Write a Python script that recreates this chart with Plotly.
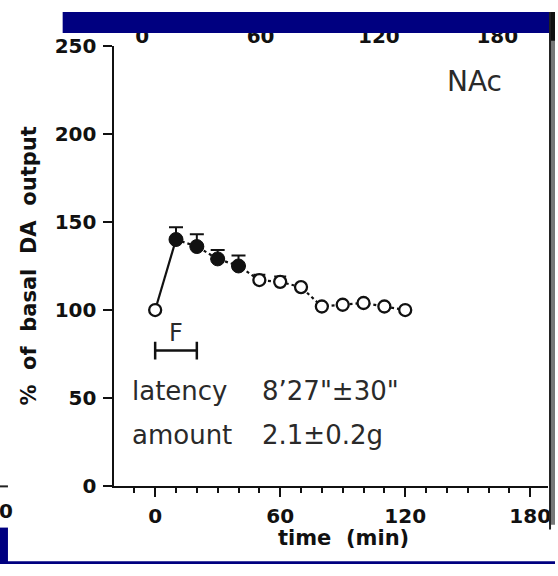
import plotly.graph_objects as go

W, H = 558, 576

# ---- data ----
time_min = [0, 10, 20, 30, 40, 50, 60, 70, 80, 90, 100, 110, 120]
da_pct = [100, 140, 136, 129, 125, 117, 116, 113, 102, 103, 104, 102, 100]
sem_up = [0, 7, 7, 5, 6, 3, 3, 0, 0, 0, 0, 0, 0]
filled = [False, True, True, True, True, False, False, False, False, False, False, False, False]

x_ticks = [0, 60, 120, 180]
y_ticks = [0, 50, 100, 150, 200, 250]
feeding_start, feeding_end = 0, 20
latency_text = "8\u201927\"\u00b130\""
amount_text = "2.1\u00b10.2g"
region_label = "NAc"


def X(px):
    return px / W


def Y(py):
    return 1 - py / H


BLACK = "#111111"
NAVY = "#000080"
thin_font = dict(family="DejaVu Sans ExtraLight, DejaVu Sans", size=26, color="#2a2a2a")

fig = go.Figure()

# solid segment 0 -> 10
fig.add_trace(go.Scatter(x=time_min[:2], y=da_pct[:2], mode="lines",
                         line=dict(color=BLACK, width=2.2), showlegend=False, hoverinfo="skip"))
# dotted segment 10 -> 120
fig.add_trace(go.Scatter(x=time_min[1:], y=da_pct[1:], mode="lines",
                         line=dict(color=BLACK, width=2.2, dash="dot"), showlegend=False, hoverinfo="skip"))

fx = [t for t, f in zip(time_min, filled) if f]
fy = [v for v, f in zip(da_pct, filled) if f]
fe = [e for e, f in zip(sem_up, filled) if f]
ox = [t for t, f in zip(time_min, filled) if not f]
oy = [v for v, f in zip(da_pct, filled) if not f]
oe = [e for e, f in zip(sem_up, filled) if not f]

fig.add_trace(go.Scatter(
    x=ox, y=oy, mode="markers",
    marker=dict(symbol="circle", size=12, color="white", line=dict(color=BLACK, width=2.3)),
    error_y=dict(type="data", array=oe, arrayminus=[0] * len(oe), symmetric=False,
                 color=BLACK, thickness=2, width=6),
    showlegend=False))
fig.add_trace(go.Scatter(
    x=fx, y=fy, mode="markers",
    marker=dict(symbol="circle", size=14, color=BLACK, line=dict(color=BLACK, width=1)),
    error_y=dict(type="data", array=fe, arrayminus=[0] * len(fe), symmetric=False,
                 color=BLACK, thickness=2, width=7),
    showlegend=False))

shapes = []
# feeding bar (F)
bar_y = 77
shapes.append(dict(type="line", xref="x", yref="y", x0=feeding_start, x1=feeding_end,
                   y0=bar_y, y1=bar_y, line=dict(color=BLACK, width=2.5)))
for xv in (feeding_start, feeding_end):
    shapes.append(dict(type="line", xref="x", yref="y", x0=xv, x1=xv,
                       y0=bar_y - 5, y1=bar_y + 5, line=dict(color=BLACK, width=2.5)))

# decorative frame pieces from the slide
shapes.append(dict(type="rect", xref="paper", yref="paper", x0=X(63), x1=X(552), y0=Y(22), y1=Y(0),
                   fillcolor=NAVY, line=dict(width=0), layer="above"))
shapes.append(dict(type="rect", xref="paper", yref="paper", x0=X(0), x1=X(558), y0=Y(576), y1=Y(573),
                   fillcolor=NAVY, line=dict(width=0), layer="above"))
shapes.append(dict(type="rect", xref="paper", yref="paper", x0=X(0), x1=X(8), y0=Y(576), y1=Y(538),
                   fillcolor=NAVY, line=dict(width=0), layer="above"))
shapes.append(dict(type="rect", xref="paper", yref="paper", x0=X(552), x1=X(558), y0=Y(535), y1=Y(0),
                   fillcolor="#777777", line=dict(width=0), layer="above"))
shapes.append(dict(type="rect", xref="paper", yref="paper", x0=X(552), x1=X(558), y0=Y(30), y1=Y(0),
                   fillcolor="#111111", line=dict(width=0), layer="above"))
shapes.append(dict(type="line", xref="paper", yref="paper", x0=X(553), x1=X(553), y0=Y(540), y1=Y(0),
                   line=dict(color="#222222", width=2), layer="above"))
shapes.append(dict(type="line", xref="paper", yref="paper", x0=X(0), x1=X(8), y0=Y(495), y1=Y(495),
                   line=dict(color="#222222", width=2), layer="above"))


def ann(text, xpx, ypx, font, xanchor="center"):
    return dict(text=text, x=X(xpx), y=Y(ypx), xref="paper", yref="paper", xanchor=xanchor,
                yanchor="middle", showarrow=False, font=font)


annotations = [
    dict(text="F", x=(feeding_start + feeding_end) / 2, y=bar_y + 10, xref="x", yref="y",
         xanchor="center", yanchor="middle", showarrow=False,
         font=dict(family="DejaVu Sans ExtraLight, DejaVu Sans", size=24, color="#2a2a2a")),
    ann("latency", 131, 395, thin_font, "left"),
    ann(latency_text, 261, 395, thin_font, "left"),
    ann("amount", 131, 441, thin_font, "left"),
    ann(amount_text, 261, 441, thin_font, "left"),
    ann(region_label, 477, 72, dict(family="DejaVu Sans ExtraLight, DejaVu Sans", size=28, color="#2a2a2a")),
    ann("time\u00a0 (min)", 345, 549, dict(family="DejaVu Sans", size=21, color=BLACK, weight="bold")),
    ann("0", 6, 521, dict(family="DejaVu Sans", size=20, color=BLACK, weight="bold")),
]

xr = [(115 - 156) / 2.095, (551 - 156) / 2.095]
fig.update_layout(
    width=W, height=H,
    margin=dict(l=0, r=0, t=0, b=0),
    paper_bgcolor="white", plot_bgcolor="white",
    shapes=shapes, annotations=annotations,
    xaxis=dict(domain=[X(115), X(551)], range=xr, tickvals=x_ticks, showgrid=False, zeroline=False,
               showline=True, linecolor=BLACK, linewidth=2, ticks="outside", ticklen=9, tickwidth=2,
               tickcolor=BLACK, tickfont=dict(family="DejaVu Sans", size=20, color=BLACK, weight="bold"),
               ticklabelstandoff=2,
               minor=dict(dtick=10, tick0=0, ticks="outside", ticklen=5, tickwidth=2, tickcolor=BLACK,
                          showgrid=False),
               anchor="y"),
    xaxis2=dict(domain=[X(115), X(551)], range=[-(143 - 115) / 1.983, (551 - 143) / 1.983],
                tickvals=x_ticks, overlaying="x", side="top", anchor="free", position=Y(36),
                showgrid=False, zeroline=False, showline=False, ticks="",
                tickfont=dict(family="DejaVu Sans", size=20, color=BLACK, weight="bold")),
    yaxis=dict(domain=[Y(495), Y(35)], range=[0, 250], tickvals=y_ticks, showgrid=False, zeroline=False,
               showline=True, linecolor=BLACK, linewidth=2, ticks="outside", ticklen=9, tickwidth=2,
               tickcolor=BLACK, tickfont=dict(family="DejaVu Sans", size=20, color=BLACK, weight="bold"),
               ticklabelstandoff=3,
               title=dict(text="%\u00a0 of\u00a0 basal\u00a0 DA\u00a0 output",
                          font=dict(family="DejaVu Sans", size=21, color=BLACK, weight="bold"),
                          standoff=12),
               anchor="x"),
)
# invisible trace to activate xaxis2
fig.add_trace(go.Scatter(x=[0], y=[None], xaxis="x2", yaxis="y", showlegend=False, hoverinfo="skip"))

fig.write_html("out.html")
